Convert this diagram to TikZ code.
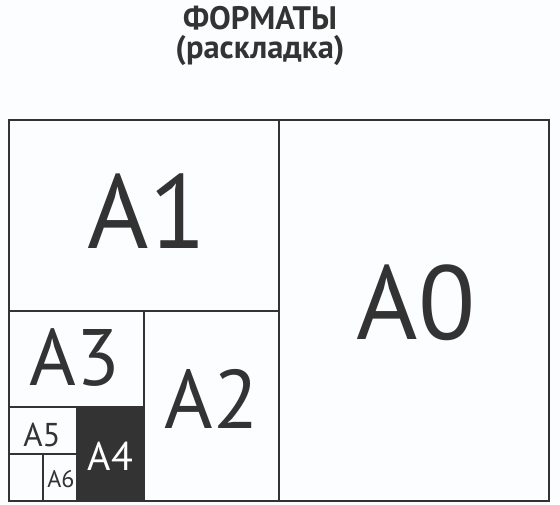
\documentclass[tikz,border=0pt]{standalone}
\usepackage{fontspec}
\setmainfont{PT Sans}
\begin{document}
\begin{tikzpicture}[x=1pt,y=-1pt,
  frame/.style={draw=ink,line width=2pt},
  lbl/.style={anchor=base,inner sep=0pt,text=ink},
  ttl/.style={lbl,align=center,font=\bfseries\fontsize{32.5}{29}\selectfont},
  ]
\definecolor{ink}{HTML}{333333}
\definecolor{bg}{HTML}{FCFDFE}
\fill[bg] (0,0) rectangle (560,504);
\useasboundingbox (0,0) rectangle (560,504);
% title
\node[ttl] (title) at (260,58.5) {ФОРМАТЫ\\(раскладка)};
% sheets
\fill[ink] (77,407) rectangle (144,501);
\draw[frame] (9,120) rectangle (549,501);
\draw[frame] (279,120) -- (279,501);
\draw[frame] (9,311) -- (279,311);
\draw[frame] (144,311) -- (144,501);
\draw[frame] (9,407) -- (144,407);
\draw[frame] (77,407) -- (77,501);
\draw[frame] (9,454) -- (77,454);
\draw[frame] (43,454) -- (43,501);
% labels
\node[lbl,font=\fontsize{105}{110}\selectfont] (a1) at (147,248) {A1};
\node[lbl,font=\fontsize{105}{110}\selectfont] (a0) at (416,339) {A0};
\node[lbl,font=\fontsize{80}{84}\selectfont] (a3) at (75,385) {A3};
\node[lbl,font=\fontsize{83}{86}\selectfont] (a2) at (211.5,428) {A2};
\node[lbl,font=\fontsize{33}{36}\selectfont] (a5) at (42,446) {A5};
\node[lbl,font=\fontsize{40}{44}\selectfont,text=white] (a4) at (110.5,470) {A4};
\node[lbl,font=\fontsize{24}{26}\selectfont] (a6) at (61,487) {A6};
\end{tikzpicture}
\end{document}
